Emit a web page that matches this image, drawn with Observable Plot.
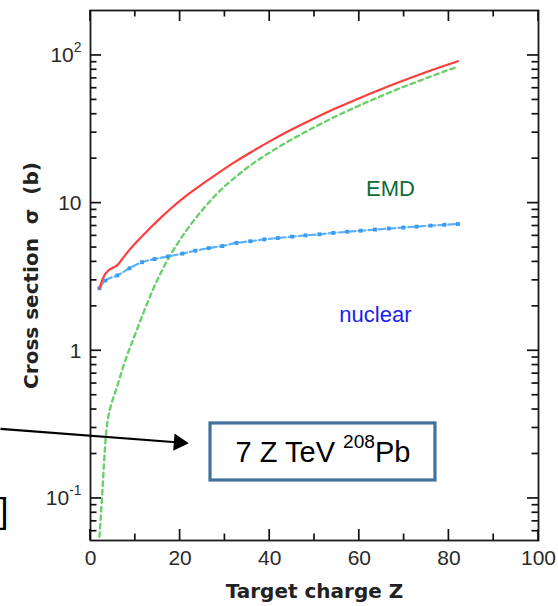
<!DOCTYPE html>
<html><head><meta charset="utf-8">
<script src="https://cdn.jsdelivr.net/npm/d3@7"></script>
<script src="https://cdn.jsdelivr.net/npm/@observablehq/plot@0.6"></script>
<style>
html,body{margin:0;padding:0;background:#fff;}
#chart{width:558px;height:606px;overflow:hidden;}
</style></head><body><div id="chart"></div>
<script>
// ---- data ----
const totalZ     = [2, 3, 4, 5, 6, 7, 8, 10, 12, 14, 16, 18, 20, 22, 25, 28, 32, 36, 40, 45, 50, 55, 60, 65, 70, 75, 82];
const totalSigma = [2.65, 3.2, 3.5, 3.65, 3.8, 4.15, 4.55, 5.35, 6.17, 7.1, 8.13, 9.23, 10.4, 11.6, 13.5, 15.6, 18.8, 22.3, 26.2, 31.6, 37.6, 44.2, 51.4, 59.3, 67.9, 77.3, 91.4];

const emdZ     = [2, 2.3, 2.6, 3, 3.5, 4, 4.5, 5, 6, 7, 8, 10, 12, 14, 16, 18, 20, 22, 25, 28, 32, 36, 40, 45, 50, 55, 60, 65, 70, 75, 82];
const emdSigma = [0.055, 0.075, 0.105, 0.17, 0.28, 0.36, 0.42, 0.47, 0.58, 0.73, 0.9, 1.3, 1.87, 2.62, 3.52, 4.54, 5.66, 6.92, 9.0, 11.4, 14.7, 18.3, 22.0, 27.1, 32.7, 39.0, 45.8, 53.3, 61.5, 70.3, 84.1];

const nuclearZ     = [2, 3.3, 6, 8.7, 11.5, 14.3, 17.3, 20.5, 23.4, 26.4, 29.4, 32.6, 35.7, 38.8, 41.8, 45, 48, 51.1, 54.2, 57.3, 60.3, 63.5, 66.6, 69.8, 72.8, 75.9, 79, 82];
const nuclearSigma = [2.65, 2.99, 3.24, 3.62, 3.98, 4.18, 4.35, 4.55, 4.76, 4.96, 5.12, 5.38, 5.52, 5.68, 5.8, 5.93, 6.05, 6.15, 6.28, 6.4, 6.5, 6.62, 6.73, 6.83, 6.93, 7.04, 7.13, 7.22];

const xTicks = [0, 20, 40, 60, 80, 100];
const xMinorTicks = [10, 30, 50, 70, 90];
const yTicks = [0.1, 1, 10, 100];
const yTickLabels = ["10^{-1}", "1", "10", "10^{2}"];
const yMinorTicks = [0.06, 0.07, 0.08, 0.09, 0.2, 0.3, 0.4, 0.5, 0.6, 0.7, 0.8, 0.9, 2, 3, 4, 5, 6, 7, 8, 9, 20, 30, 40, 50, 60, 70, 80, 90];

const xTitle = "Target charge Z";
const yTitle = "Cross section\u00a0\u00a0σ\u00a0\u00a0(b)";
const emdText = "EMD";
const nuclearText = "nuclear";
const beamText = "7 Z TeV ^{208}Pb";
const bracketText = "]";

// ---- annotation anchors (in chart coordinates: Z, sigma) ----
const emdAt = {z: 66.96, s: 12.4};
const nuclearAt = {z: 63.6, s: 1.742};
const beamBox = {z1: 26.79, z2: 77.0, s1: 0.1323, s2: 0.322};
const beamAt = {z: 51.9, s: 0.2037};
const arrowFrom = {z: -20.09, s: 0.2963};
const arrowTo = {z: 21.94, s: 0.2366};
const bracketAt = {z: -18.3, s: 0.081};

// ---- layout ----
const W = 558, H = 606, ML = 90, MR = 20, MT = 10, MB = 66;
const xDomain = [0, 100], yDomain = [0.0519, 201.6];
const majorLen = 11, minorLen = 6.5;

// ---- build tables ----
const total = totalZ.map((z, i) => ({z, s: totalSigma[i]}));
const emd = emdZ.map((z, i) => ({z, s: emdSigma[i]}));
const nuclear = nuclearZ.map((z, i) => ({z, s: nuclearSigma[i]}));
const tickFmt = d => yTickLabels[yTicks.indexOf(d)];

// arrow shaft ends a little before the tip (under the head)
const tt = 0.95;
const shaftEnd = {
  z: arrowFrom.z + tt * (arrowTo.z - arrowFrom.z),
  s: Math.pow(10, Math.log10(arrowFrom.s) + tt * (Math.log10(arrowTo.s) - Math.log10(arrowFrom.s)))
};

const axisColor = "#1a1a1a";
const labelColor = "#2a2a2a";
const titleFont = "'DejaVu Sans', sans-serif";

const plot = Plot.plot({
  width: W, height: H,
  marginLeft: ML, marginRight: MR, marginTop: MT, marginBottom: MB,
  style: {fontFamily: "'Liberation Sans', Arial, sans-serif", fontSize: "21px", color: labelColor, background: "#fff", overflow: "visible"},
  x: {domain: xDomain},
  y: {type: "log", domain: yDomain},
  marks: [
    Plot.rect([beamBox], {x1: "z1", x2: "z2", y1: "s1", y2: "s2", fill: "white", stroke: "#41719c", strokeWidth: 3.2}),
    Plot.line(emd, {x: "z", y: "s", curve: "monotone-x", stroke: "#6ccf6c", strokeWidth: 2.4, strokeDasharray: "4.5,4"}),
    Plot.line(nuclear, {x: "z", y: "s", curve: "monotone-x", stroke: "#5cb2ff", strokeWidth: 2.2, strokeDasharray: "7,3"}),
    Plot.dot(nuclear, {x: "z", y: "s", symbol: "square", r: 2.2, fill: "#3a9bf0"}),
    Plot.line(total, {x: "z", y: "s", curve: "monotone-x", stroke: "#ff3d3d", strokeWidth: 2.2}),
    Plot.frame({stroke: axisColor, strokeWidth: 1.8}),
    Plot.axisX(xTicks, {anchor: "bottom", tickSize: 0, tickPadding: 10, tickFormat: d => String(d), label: null, fill: labelColor, fontSize: 21}),
    Plot.axisY(yTicks, {anchor: "left", tickSize: 0, tickPadding: 9, tickFormat: tickFmt, label: null, fill: labelColor, fontSize: 21}),
    Plot.text([xTitle], {text: d => d, frameAnchor: "bottom", dy: 57, lineAnchor: "bottom", textAnchor: "middle", fontFamily: titleFont, fontWeight: "bold", fontSize: 20, fill: "#222"}),
    Plot.text([yTitle], {text: d => d, frameAnchor: "left", dx: -59, rotate: -90, lineAnchor: "middle", textAnchor: "middle", fontFamily: titleFont, fontWeight: "bold", fontSize: 20, fill: "#222"}),
    Plot.text([emdAt], {x: "z", y: "s", text: () => emdText, fontSize: 22, fill: "#0e6b38", lineAnchor: "middle"}),
    Plot.text([nuclearAt], {x: "z", y: "s", text: () => nuclearText, fontSize: 22, fill: "#1c1cf0", lineAnchor: "middle"}),
    Plot.text([beamAt], {x: "z", y: "s", text: () => beamText, fontSize: 29, fill: "#000", lineAnchor: "middle"}),
    Plot.link([{a: arrowFrom, b: shaftEnd}], {x1: d => d.a.z, y1: d => d.a.s, x2: d => d.b.z, y2: d => d.b.s, stroke: "#000", strokeWidth: 2.2}),
    Plot.dot([arrowTo], {x: "z", y: "s", symbol: "triangle", r: 6.4, fill: "#000", stroke: "none", rotate: 94.4, dx: -9.97, dy: -0.76}),
    Plot.text([bracketAt], {x: "z", y: "s", text: () => bracketText, fontSize: 35, fill: "#000", textAnchor: "end", lineAnchor: "middle"})
  ]
});

document.getElementById("chart").appendChild(plot);

// inward ticks on all four sides, positioned with the plot's own scales
const sx = plot.scale("x"), sy = plot.scale("y");
const [px0, px1] = sx.range, [py0, py1] = sy.range; // py0 = bottom, py1 = top
const svg = d3.select(plot);
const tg = svg.append("g").attr("stroke", "#111").attr("stroke-width", 1.7).attr("fill", "none");
const addV = (vals, len) => vals.forEach(v => {
  const x = sx.apply(v);
  tg.append("line").attr("x1", x).attr("x2", x).attr("y1", py0).attr("y2", py0 - len);
  tg.append("line").attr("x1", x).attr("x2", x).attr("y1", py1).attr("y2", py1 + len);
});
const addH = (vals, len) => vals.forEach(v => {
  const y = sy.apply(v);
  tg.append("line").attr("x1", px0).attr("x2", px0 + len).attr("y1", y).attr("y2", y);
  tg.append("line").attr("x1", px1).attr("x2", px1 - len).attr("y1", y).attr("y2", y);
});
addV(xTicks, majorLen); addV(xMinorTicks, minorLen);
addH(yTicks, majorLen); addH(yMinorTicks, minorLen);

// superscripts: "base^{sup}rest"
svg.selectAll("text").each(function () {
  const m = /^(.*?)\^\{(.*?)\}(.*)$/.exec(this.textContent);
  if (!m) return;
  const base = parseFloat(getComputedStyle(this).fontSize) || 21;
  const raise = 0.5 * base, sup = 0.66 * base;
  this.textContent = "";
  const sel = d3.select(this);
  sel.append("tspan").text(m[1]);
  sel.append("tspan").attr("font-size", sup).attr("dy", -raise).text(m[2]);
  if (m[3]) sel.append("tspan").attr("dy", raise).text(m[3]);
});
</script></body></html>
